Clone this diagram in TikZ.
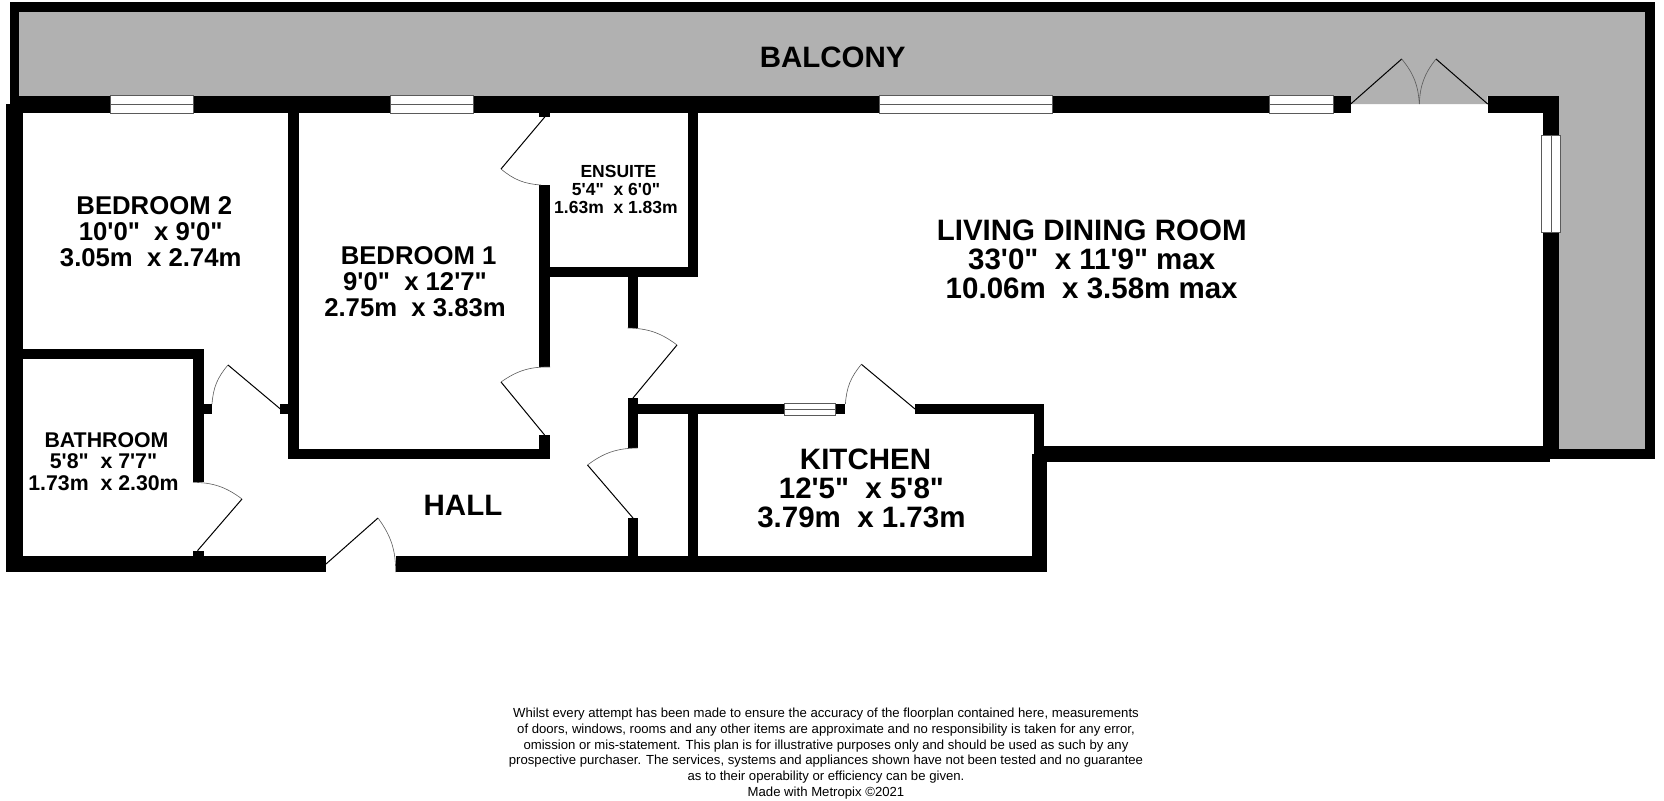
\documentclass[tikz,border=0pt]{standalone}
\usepackage{fontspec}
\newfontfamily\planfont{Liberation Sans}
\definecolor{balconygrey}{HTML}{B1B1B1}
\definecolor{frameline}{HTML}{5A5A5A}
\tikzset{
  wall/.style={fill=black},
  pane/.style={draw=frameline, fill=white, line width=1pt},
  paneline/.style={draw=frameline, line width=1pt},
  leaf/.style={draw=black, line width=1pt},
  swing/.style={draw=frameline, line width=.6pt},
  biglabel/.style={align=center, font=\planfont\bfseries\fontsize{29.5}{29}\selectfont},
  bedlabel/.style={align=center, font=\planfont\bfseries\fontsize{25.7}{25.7}\selectfont},
  bathlabel/.style={align=center, font=\planfont\bfseries\fontsize{21.3}{21.5}\selectfont},
  suitelabel/.style={align=center, font=\planfont\bfseries\fontsize{17.5}{18}\selectfont},
  smallprint/.style={align=center, font=\planfont\fontsize{13.15}{15.7}\selectfont}
}
\newcommand{\lead}{\hspace*{.28em}}
\begin{document}
\begin{tikzpicture}[x=1pt, y=-1pt]
\useasboundingbox (0,0) rectangle (1664,800);

% Balcony floor
\fill[balconygrey] (19,12) -- (1645,12) -- (1645,449) -- (1559,449) -- (1559,96) -- (1487.7,96) -- (1487.7,104) -- (1350.7,104) -- (1350.7,96) -- (19,96) -- cycle;

% Balcony walls
\fill[wall] (10,2.5) rectangle (1654.7,12);
\fill[wall] (10,2.5) rectangle (19,104);
\fill[wall] (1645,2.5) rectangle (1654.7,458.7);
\fill[wall] (1548,449) rectangle (1654.7,458.7);

% Outer walls
\fill[wall] (10,96) rectangle (1350.7,112.5);
\fill[wall] (1487.7,96) rectangle (1559.3,112.5);
\fill[wall] (6.4,104) rectangle (22.5,572);
\fill[wall] (1543,96) rectangle (1559.3,450);
\fill[wall] (1033.6,446) rectangle (1550,462);
\fill[wall] (6.4,556) rectangle (326,572);
\fill[wall] (395.7,556) rectangle (1047,572);
\fill[wall] (1033.6,404) rectangle (1044,462);
\fill[wall] (1032,454) rectangle (1047,572);

% Inner walls
\fill[wall] (288,104) rectangle (298.6,459);
\fill[wall] (280,404) rectangle (288,414);
\fill[wall] (288,449) rectangle (550,459);
\fill[wall] (539,104) rectangle (550,116.7);
\fill[wall] (539,185) rectangle (550,367);
\fill[wall] (539,435) rectangle (550,459);
\fill[wall] (22,349) rectangle (203.6,359);
\fill[wall] (193,349) rectangle (203.6,482);
\fill[wall] (203.6,404) rectangle (212,414);
\fill[wall] (193,551) rectangle (203.6,560);
\fill[wall] (688,104) rectangle (698,277);
\fill[wall] (550,266.7) rectangle (698,277);
\fill[wall] (627.5,277) rectangle (637.5,328);
\fill[wall] (627.5,398) rectangle (637.5,448);
\fill[wall] (627.5,518) rectangle (637.5,560);
\fill[wall] (637.5,404) rectangle (784,414);
\fill[wall] (835,404) rectangle (845.4,414);
\fill[wall] (915,404) rectangle (1044,414);
\fill[wall] (687.5,414) rectangle (698,560);

% Windows
\draw[pane] (110.4,95) rectangle (193.6,113.5);
\draw[paneline] (110.4,104.2) -- (193.6,104.2);
\draw[pane] (390,95) rectangle (473,113.5);
\draw[paneline] (390,104.2) -- (473,104.2);
\draw[pane] (879,95) rectangle (1052,113.5);
\draw[paneline] (879,104.2) -- (1052,104.2);
\draw[pane] (1269,95) rectangle (1333,113.5);
\draw[paneline] (1269,104.2) -- (1333,104.2);
\draw[pane] (784,403) rectangle (835,415.5);
\draw[paneline] (784,409.2) -- (835,409.2);
\draw[pane] (1541.7,135) rectangle (1560.3,232);
\draw[paneline] (1551,135) -- (1551,232);

% Doors
\draw[leaf] (545,116.7) -- (501,169);
\draw[swing] (501,169) to[bend right=18] (541,185);
\draw[leaf] (544.6,435) -- (501,382);
\draw[swing] (501,382) to[bend left=18] (550,367);
\draw[leaf] (280.4,409) -- (228,365);
\draw[swing] (228,365) to[bend right=18] (212,404);
\draw[leaf] (197.5,550.7) -- (242,499);
\draw[swing] (242,499) to[bend right=18] (193,482.3);
\draw[leaf] (326,564) -- (378,518);
\draw[swing] (378,518) to[bend left=18] (395.7,572);
\draw[leaf] (633,398) -- (677,345);
\draw[swing] (677,345) to[bend right=18] (627.5,328);
\draw[leaf] (633,518) -- (587.5,465);
\draw[swing] (587.5,465) to[bend left=18] (637.5,448);
\draw[leaf] (915,409) -- (861.4,364.3);
\draw[swing] (861.4,364.3) to[bend right=18] (845.4,404);
\draw[leaf] (1350.7,104) -- (1401.7,59);
\draw[swing] (1401.7,59) to[bend left=18] (1419.3,104);
\draw[leaf] (1487.7,104) -- (1436,59);
\draw[swing] (1436,59) to[bend right=18] (1419.3,104);

% Labels
\node[biglabel] (balcony) at (832.7,57.7) {BALCONY};
\node[bedlabel] (bedroom2) at (150.7,231.5) {\lead BEDROOM 2\\10'0"\ \ x 9'0"\\3.05m\ \ x 2.74m};
\node[bedlabel] (bedroom1) at (415,281.5) {\lead BEDROOM 1\\9'0"\ \ x 12'7"\\2.75m\ \ x 3.83m};
\node[suitelabel] (ensuite) at (616,189.5) {\lead ENSUITE\\5'4"\ \ x 6'0"\\1.63m\ \ x 1.83m};
\node[biglabel] (living) at (1091.7,259) {LIVING DINING ROOM\\33'0"\ \ x 11'9" max\\10.06m\ \ x 3.58m max};
\node[bathlabel] (bathroom) at (103.5,461.5) {\lead BATHROOM\\5'8"\ \ x 7'7"\\1.73m\ \ x 2.30m};
\node[biglabel] (hall) at (463,505.7) {HALL};
\node[biglabel] (kitchen) at (861.4,488.5) {\lead KITCHEN\\12'5"\ \ x 5'8"\\3.79m\ \ x 1.73m};
\node[smallprint] (notice) at (826,753.5) {Whilst every attempt has been made to ensure the accuracy of the floorplan contained here, measurements\\of doors, windows, rooms and any other items are approximate and no responsibility is taken for any error,\\omission or mis-statement. This plan is for illustrative purposes only and should be used as such by any\\prospective purchaser. The services, systems and appliances shown have not been tested and no guarantee\\as to their operability or efficiency can be given.\\Made with Metropix ©2021};
\end{tikzpicture}
\end{document}
